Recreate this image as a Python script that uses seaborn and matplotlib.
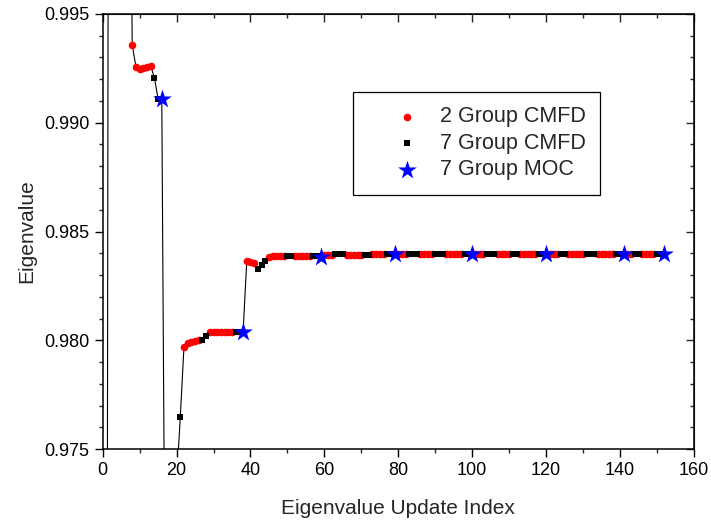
import matplotlib
matplotlib.use("Agg")
import matplotlib.pyplot as plt
import matplotlib.ticker as mticker
import numpy as np
import pandas as pd
import seaborn as sns

# 2 group CMFD updates (red dots); 1-7 sit above/below the plotted window
red_idx = [1, 2, 3, 4, 5, 6, 7, 8, 9, 10, 11, 12, 13,
           22, 23, 24, 25, 26,
           29, 30, 31, 32, 33, 34, 35,
           39, 40, 41,
           45, 46, 47, 48, 49,
           52, 53, 54, 55, 56,
           60, 61, 62,
           66, 67, 68, 69, 70,
           73, 74, 75, 76,
           80, 81, 82,
           86, 87, 88, 89,
           93, 94, 95, 96, 97,
           101, 102, 103,
           107, 108, 109, 110,
           113, 114, 115, 116, 117,
           121, 122, 123,
           126, 127, 128, 129, 130,
           134, 135, 136, 137, 138,
           142, 143,
           146, 147, 148, 149]
red_eig = [0.940, 1.060, 1.040, 1.030, 1.020, 1.015, 1.010,
           0.99357, 0.99258, 0.99248, 0.99250, 0.99255, 0.99262,
           0.97970, 0.97986, 0.97993, 0.97997, 0.98001,
           0.98038, 0.98039, 0.98039, 0.98039, 0.98039, 0.98039, 0.98039,
           0.98366, 0.98362, 0.98357,
           0.98385, 0.98387, 0.98387, 0.98387, 0.98387,
           0.98388, 0.98388, 0.98388, 0.98388, 0.98388,
           0.98392, 0.98392, 0.98392,
           0.98394, 0.98394, 0.98394, 0.98394, 0.98394,
           0.98395, 0.98395, 0.98395, 0.98395,
           0.98396, 0.98396, 0.98396,
           0.98396, 0.98396, 0.98396, 0.98396,
           0.98396, 0.98396, 0.98396, 0.98396, 0.98396,
           0.98396, 0.98396, 0.98396,
           0.98396, 0.98396, 0.98396, 0.98396,
           0.98396, 0.98396, 0.98396, 0.98396, 0.98396,
           0.98396, 0.98396, 0.98396,
           0.98396, 0.98396, 0.98396, 0.98396, 0.98396,
           0.98396, 0.98396, 0.98396, 0.98396, 0.98396,
           0.98396, 0.98396,
           0.98396, 0.98396, 0.98396, 0.98396]

# 7 group CMFD updates (black squares)
black_idx = [14, 15, 17, 18, 19, 20, 21, 27, 28, 36, 37, 42, 43, 44,
             50, 51, 57, 58, 63, 64, 65, 71, 72, 77, 78, 83, 84, 85,
             90, 91, 92, 98, 99, 104, 105, 106, 111, 112, 118, 119,
             124, 125, 131, 132, 133, 139, 140, 144, 145, 150, 151]
black_eig = [0.99206, 0.99110, 0.9643, 0.9660, 0.9700, 0.9735, 0.97646,
             0.98002, 0.98021, 0.98039, 0.98039, 0.98326, 0.98346, 0.98366,
             0.98388, 0.98388, 0.98388, 0.98388, 0.98397, 0.98397, 0.98397,
             0.98394, 0.98394, 0.98395, 0.98395, 0.98396, 0.98396, 0.98396,
             0.98396, 0.98396, 0.98396, 0.98396, 0.98396, 0.98396, 0.98396,
             0.98396, 0.98396, 0.98396, 0.98396, 0.98396, 0.98396, 0.98396,
             0.98396, 0.98396, 0.98396, 0.98396, 0.98396, 0.98396, 0.98396,
             0.98396, 0.98396]

# 7 group MOC updates (blue stars)
moc_idx = [16, 38, 59, 79, 100, 120, 141, 152]
moc_eig = [0.99108, 0.98037, 0.98385, 0.98395, 0.98396, 0.98396, 0.98396, 0.98396]

all_updates = pd.DataFrame({
    "index": red_idx + black_idx + moc_idx,
    "eig": red_eig + black_eig + moc_eig,
}).sort_values("index")

sns.set_style("ticks")
plt.rcParams["font.family"] = ["Liberation Sans", "DejaVu Sans"]

fig = plt.figure(figsize=(7.11, 5.24), dpi=100)
ax = fig.add_axes([0.1444, 0.1431, 0.8316, 0.8302])

sns.lineplot(data=all_updates, x="index", y="eig", color="black", lw=0.8,
             estimator=None, sort=True, ax=ax, zorder=1)
sns.scatterplot(x=red_idx, y=red_eig, color="red", marker="o", s=30,
                linewidth=0, label="2 Group CMFD", ax=ax, zorder=3)
sns.scatterplot(x=black_idx, y=black_eig, color="black", marker="s", s=19,
                linewidth=0, label="7 Group CMFD", ax=ax, zorder=3)
sns.scatterplot(x=moc_idx, y=moc_eig, color="blue", marker="*", s=200,
                linewidth=0, label="7 Group MOC", ax=ax, zorder=4)

ax.set_xlim(0, 160)
ax.set_ylim(0.975, 0.995)
ax.xaxis.set_major_locator(mticker.MultipleLocator(20))
ax.xaxis.set_minor_locator(mticker.MultipleLocator(10))
ax.yaxis.set_major_locator(mticker.MultipleLocator(0.005))
ax.yaxis.set_minor_locator(mticker.MultipleLocator(0.001))
ax.yaxis.set_major_formatter(mticker.FormatStrFormatter("%.3f"))
ax.tick_params(which="major", direction="out", length=6, width=1, labelsize=13, colors="black")
ax.tick_params(which="minor", direction="out", length=3, width=1)

for s in ax.spines.values():
    s.set_visible(True)
    s.set_linewidth(1.1)
    s.set_color("black")

top = ax.secondary_xaxis("top")
top.xaxis.set_major_locator(mticker.MultipleLocator(20))
top.xaxis.set_minor_locator(mticker.MultipleLocator(10))
top.tick_params(which="major", direction="in", length=6, width=1, labeltop=False)
top.tick_params(which="minor", direction="in", length=3, width=1)
right = ax.secondary_yaxis("right")
right.yaxis.set_major_locator(mticker.MultipleLocator(0.005))
right.yaxis.set_minor_locator(mticker.MultipleLocator(0.001))
right.tick_params(which="major", direction="in", length=6, width=1, labelright=False)
right.tick_params(which="minor", direction="in", length=3, width=1)

ax.set_xlabel("Eigenvalue Update Index", fontsize=15)
ax.set_ylabel("Eigenvalue", fontsize=15)
ax.xaxis.set_label_coords(0.5, -0.114)
ax.yaxis.set_label_coords(-0.112, 0.5)

leg = ax.legend(loc="upper left", bbox_to_anchor=(0.423, 0.821), fontsize=15.5,
                frameon=True, fancybox=False, framealpha=1, edgecolor="black",
                borderpad=0.67, handlelength=3.66, handletextpad=-0.28,
                labelspacing=0.26, borderaxespad=0)
leg.get_frame().set_linewidth(0.9)

fig.savefig("out.png", dpi=100)
